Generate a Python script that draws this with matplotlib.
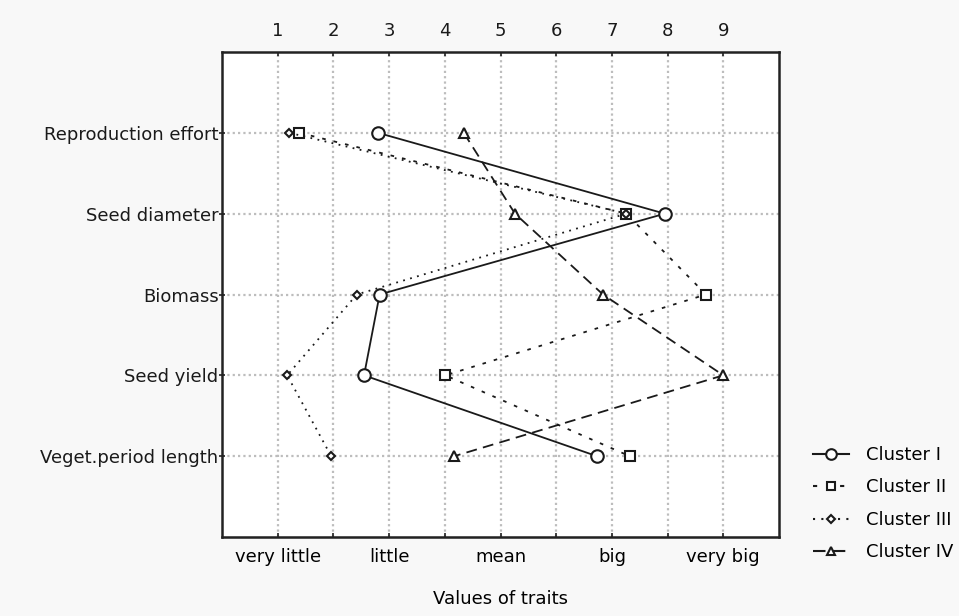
import matplotlib.pyplot as plt
from matplotlib.lines import Line2D

# ── Data ───────────────────────────────────────────────────────────
traits = ["Reproduction effort", "Seed diameter", "Biomass",
          "Seed yield", "Veget.period length"]
trait_pos = [5, 4, 3, 2, 1]

cluster_1 = [2.80, 7.95, 2.83, 2.55, 6.73]
cluster_2 = [1.39, 7.26, 8.69, 4.01, 7.32]
cluster_3 = [1.21, 7.26, 2.42, 1.17, 1.96]
cluster_4 = [4.34, 5.26, 6.84, 9.00, 4.17]

top_ticks = [1, 2, 3, 4, 5, 6, 7, 8, 9]
level_ticks = [1, 3, 5, 7, 9]
level_labels = ["very little", "little", "mean", "big", "very big"]

# ── Styles ─────────────────────────────────────────────────────────
series = [
    ("Cluster I",   cluster_1, "o", 9.0, "-"),
    ("Cluster II",  cluster_2, "s", 7.5, (0, (2, 4.5))),
    ("Cluster III", cluster_3, "D", 4.5, (0, (1, 3))),
    ("Cluster IV",  cluster_4, "^", 6.5, (0, (6, 3.5))),
]
FS = 13

plt.rcParams["font.family"] = "DejaVu Sans"
fig = plt.figure(figsize=(9.59, 6.16), dpi=100)
fig.patch.set_facecolor("#f8f8f8")
ax = fig.add_axes([222 / 959, 1 - 537 / 616, (779 - 222) / 959, (537 - 52) / 616])
ax.set_facecolor("white")

handles = []
for name, vals, mk, ms, ls in series:
    ax.plot(vals, trait_pos, color="#1a1a1a", lw=1.3, ls=ls,
            marker=mk, ms=ms, mfc="white", mec="#1a1a1a", mew=1.5, zorder=3)
    handles.append(Line2D([], [], color="#1a1a1a", lw=1.5, ls=ls, marker=mk,
                          ms=ms * 0.85, mfc="white", mec="#1a1a1a", mew=1.5,
                          label=name))

ax.set_xlim(0, 10)
ax.set_ylim(0, 6)

# top numeric ticks
ax.set_xticks(top_ticks)
ax.xaxis.tick_top()
ax.tick_params(axis="x", which="major", top=True, bottom=True, direction="in",
               length=3, width=1.2, colors="#222222", labelcolor="#1a1a1a",
               labelsize=FS, labeltop=True, labelbottom=False, pad=9)
ax.grid(True, color="#bdbdbd", ls=(0, (1.0, 1.4)), lw=1.6, zorder=1)

# bottom verbal levels
sec = ax.secondary_xaxis("bottom")
sec.set_xticks(level_ticks)
sec.set_xticklabels(level_labels)
sec.tick_params(length=0, labelsize=FS, pad=8)
sec.set_xlabel("Values of traits", fontsize=FS, labelpad=17)

ax.set_yticks(trait_pos)
ax.set_yticklabels(traits)
ax.tick_params(axis="y", direction="inout", length=5, width=1.2,
               colors="#222222", labelcolor="#1a1a1a", labelsize=FS, pad=0)

for s in ax.spines.values():
    s.set_linewidth(1.8)
    s.set_color("#222222")

fig.legend(handles=handles, loc="upper left",
           bbox_to_anchor=(813 / 959, 1 - 446 / 616),
           frameon=False, fontsize=FS, handlelength=2.0,
           handletextpad=0.95, labelspacing=0.8, borderpad=0,
           borderaxespad=0)

fig.savefig("out.png", dpi=100, facecolor=fig.get_facecolor())
